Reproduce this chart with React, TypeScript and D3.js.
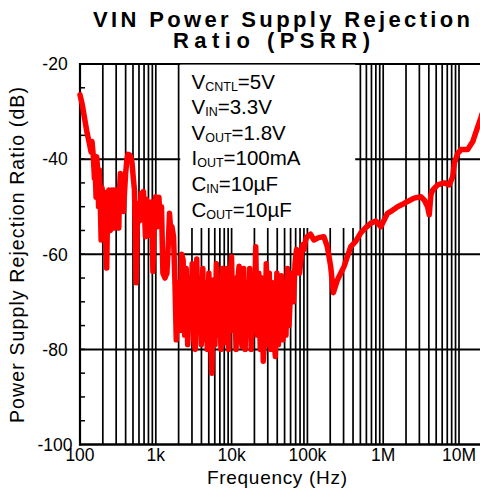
import React from 'react';
import * as d3 from 'd3';

const W = 480;
const H = 493;

const xTickValues = [100, 1e3, 1e4, 1e5, 1e6, 1e7];
const xTickLabels = ['100', '1k', '10k', '100k', '1M', '10M'];
const yTickValues = [-20, -40, -60, -80, -100];
const yGridValues = [-40, -60, -80];

// 100 Hz .. 2 kHz
const lowFreqHz = [
  100, 107, 114, 124, 133, 140, 144, 150, 155, 159,
  163, 166, 171, 176, 180, 184, 190, 195, 200, 205,
  210, 218, 225, 232, 240, 246, 252, 258, 265, 272,
  279, 286, 293, 300, 306, 315, 325, 333, 341, 354,
  367, 376, 386, 400, 415, 430, 449, 467, 487, 505,
  523, 537, 550, 567, 585, 612, 641, 663, 687, 708,
  731, 758, 786, 814, 843, 880, 916, 953, 991, 1028,
  1066, 1100, 1143, 1190, 1241, 1320, 1402, 1460, 1517, 1575,
  1633, 1714, 1790, 1862, 1930,
];
const lowDb = [
  -26.5, -28.5, -31.1, -34.5, -36.7, -38.5, -36.3, -39.5, -44, -43,
  -48, -39.5, -42.3, -50, -42.3, -47, -57, -46, -47, -53,
  -47, -56, -62.9, -49, -46.5, -54, -55, -47, -46.5, -53,
  -46.5, -54.5, -54, -47, -46.5, -54, -54.5, -46, -43, -49,
  -46.5, -51, -47.2, -43, -40.2, -39, -39.1, -39.5, -40.9, -44,
  -46.5, -55, -66, -55, -49.3, -53, -47.2, -52, -46.8, -51,
  -56.3, -48.5, -50, -56, -54.2, -49, -63.6, -52, -47.9, -53,
  -54.2, -48, -54, -50, -64, -65, -64, -58, -51.4, -55,
  -54.2, -56.3, -66, -78, -70,
];

// 2 kHz .. 100 kHz
const midFreqHz = [
  2000, 2094, 2192, 2295, 2403, 2516, 2634, 2758, 2888, 3023,
  3165, 3314, 3470, 3633, 3804, 3983, 4170, 4366, 4571, 4786,
  5011, 5246, 5493, 5751, 6021, 6304, 6600, 6910, 7235, 7575,
  7931, 8304, 8694, 9103, 9531, 9978, 10450, 10940, 11450, 11990,
  12550, 13140, 13760, 14410, 15090, 15800, 16540, 17320, 18130, 18980,
  19870, 20810, 21780, 22810, 23880, 25000, 26170, 27400, 28690, 30040,
  31450, 32930, 34480, 36100, 37790, 39570, 41430, 43380, 45420, 47550,
  49780, 52120, 54570, 57140, 59820, 62630, 65580, 68660, 71880, 75260,
  78800, 82500, 86380, 90440, 94690, 99140,
];
const midDb = [
  -66, -76, -60, -61.2, -77, -63, -79, -65, -75, -62,
  -78, -80, -61, -76, -66, -79, -63, -78, -66, -80,
  -64, -77, -85, -65.4, -79, -62, -77, -66, -80, -63,
  -78.6, -66, -63, -80, -65, -60.5, -76, -65, -80, -66,
  -62.5, -77, -79.4, -63, -80, -66, -77, -63, -80, -66,
  -76, -58.4, -77, -64, -80, -65, -82.5, -77, -62, -79,
  -64, -80, -66, -77, -81.5, -64, -79, -67, -64.5, -78,
  -66, -77, -63, -75, -68, -64, -70, -62, -59, -62,
  -64, -61, -58, -59, -57, -56.3,
];

// 100 kHz .. 20 MHz
const highFreqHz = [
  110000, 122000, 141000, 165000, 183000, 203000, 220000, 249000, 275000, 304000,
  337000, 373000, 434000, 506000, 589000, 686000, 798000, 930000, 1140000, 1260000,
  1550000, 1800000, 2100000, 2560000, 3140000, 3480000, 3850000, 4050000, 4260000, 4490000,
  5230000, 6390000, 7450000, 8260000, 8670000, 9610000, 10600000, 13000000, 15200000, 16800000,
  19500000, 20000000,
];
const highDb = [
  -55.8, -57, -56.5, -56.3, -58.4, -62.6, -68.1, -65.4, -64, -62.6,
  -60.5, -58.4, -57.3, -55.5, -54.4, -53.5, -53, -54.2, -51.4, -51,
  -50, -49.5, -48.9, -48.2, -47.9, -48.6, -50, -51.7, -47.5, -46.5,
  -45.4, -45, -45.4, -43.7, -40.9, -38.8, -38, -38, -36.3, -34.2,
  -31.2, -30.6,
];

const legendMain = ['V', 'V', 'V', 'I', 'C', 'C'];
const legendSub = ['CNTL', 'IN', 'OUT', 'OUT', 'IN', 'OUT'];
const legendValue = ['=5V', '=3.3V', '=1.8V', '=100mA', '=10\u00B5F', '=10\u00B5F'];

const FONT = "'Liberation Sans', Arial, Helvetica, sans-serif";

export default function App() {
  const x = d3.scaleLog().domain([100, 1e7]).range([80, 459]);
  const y = d3.scaleLinear().domain([-100, -20]).range([444.5, 64]);

  const gridFreqs: number[] = [];
  for (let d = 100; d <= 1e7; d *= 10) {
    for (let m = 1; m <= 9; m++) {
      const v = d * m;
      if (v > 100 && v <= 2e7) gridFreqs.push(v);
    }
  }
  const minorY = d3.range(-95, -20, 5);

  const freqHz = [...lowFreqHz, ...midFreqHz, ...highFreqHz];
  const psrrDb = [...lowDb, ...midDb, ...highDb];
  const data = freqHz.map((f, i) => [f, psrrDb[i]] as [number, number]);
  const line = d3
    .line<[number, number]>()
    .x((d) => x(d[0]))
    .y((d) => y(d[1]))
    .curve(d3.curveLinear);

  const y0 = y(-20);
  const y1 = y(-100);

  return (
    <svg
      width={W}
      height={H}
      style={{ position: 'absolute', left: 0, top: 0, display: 'block', background: '#fff' }}
      fontFamily={FONT}
    >
      <rect x={0} y={0} width={W} height={H} fill="#fff" />
      {gridFreqs.map((f) => (
        <line key={'vg' + f} x1={x(f)} x2={x(f)} y1={y0} y2={y1} stroke="#000" strokeWidth={1.7} />
      ))}
      {yGridValues.map((v) => (
        <line key={'hg' + v} x1={80} x2={W} y1={y(v)} y2={y(v)} stroke="#000" strokeWidth={2} />
      ))}
      <line x1={80} x2={W} y1={y0} y2={y0} stroke="#000" strokeWidth={2} />
      {minorY.map((v) => (
        <line key={'mt' + v} x1={80} x2={85} y1={y(v)} y2={y(v)} stroke="#000" strokeWidth={1.5} />
      ))}
      <rect x={180.2} y={64.6} width={175} height={163.4} fill="#fff" />
      {legendMain.map((m, i) => (
        <text key={'lg' + i} x={191.5} y={88.5 + i * 25.6} fontSize={20.5} fill="#000">
          <tspan>{m}</tspan>
          <tspan fontSize={12.5} dy={2}>{legendSub[i]}</tspan>
          <tspan dy={-2}>{legendValue[i]}</tspan>
        </text>
      ))}
      <line x1={80} x2={80} y1={y0 - 1} y2={y1 + 1} stroke="#000" strokeWidth={2.2} />
      <line x1={79} x2={W} y1={y1} y2={y1} stroke="#000" strokeWidth={2.4} />
      <path
        d={line(data) || ''}
        fill="none"
        stroke="#ff0000"
        strokeWidth={5.5}
        strokeLinejoin="round"
        strokeLinecap="round"
      />
      {xTickValues.map((v, i) => (
        <text key={'xt' + v} x={x(v)} y={461} fontSize={17.5} textAnchor="middle" fill="#000">
          {xTickLabels[i]}
        </text>
      ))}
      {yTickValues.map((v) => (
        <text key={'yt' + v} x={55} y={y(v)} dy="0.36em" fontSize={17.5} textAnchor="middle" fill="#000">
          {v}
        </text>
      ))}
      <text x={207} y={484} fontSize={19} textLength={140} lengthAdjust="spacing" fill="#000">
        Frequency (Hz)
      </text>
      <text
        transform="translate(24,423) rotate(-90)"
        x={0}
        y={0}
        fontSize={19.5}
        textLength={336}
        lengthAdjust="spacing"
        fill="#000"
      >
        Power Supply Rejection Ratio (dB)
      </text>
      <text x={93} y={27} fontSize={22} fontWeight="bold" textLength={377} lengthAdjust="spacing" fill="#000">
        VIN Power Supply Rejection
      </text>
      <text x={173} y={48} fontSize={22} fontWeight="bold" textLength={197} lengthAdjust="spacing" fill="#000">
        Ratio (PSRR)
      </text>
    </svg>
  );
}
